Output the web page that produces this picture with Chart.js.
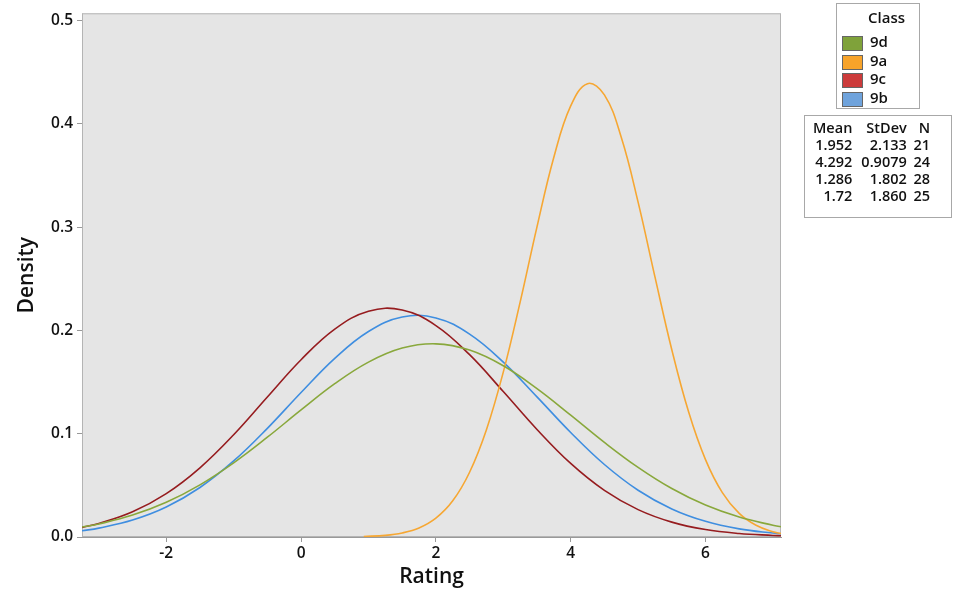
<!DOCTYPE html>
<html lang="en">
<head>
    <meta charset="UTF-8">
    <title>Rating density by class</title>
    <script src="https://cdn.jsdelivr.net/npm/chart.js"></script>
    <style>
        body { margin: 0; background: #fff; font-family: 'Open Sans', 'Noto Sans', sans-serif; }
        .wrap { position: relative; width: 957px; height: 594px; }
        canvas { position: absolute; left: 0; top: 0; }
        .box { position: absolute; border: 1px solid #a8a8a8; background: #fff; color: #111; }
        .legend { left: 836px; top: 3px; width: 82px; height: 104px; font-size: 15px; }
        .legend .title { position: absolute; left: 31px; top: 3px; font-weight: 600; }
        .legend .row { position: absolute; left: 5px; height: 18px; }
        .legend .sw { position: absolute; left: 0; top: 3px; width: 19px; height: 13px; border: 1px solid #666; }
        .legend .lbl { position: absolute; left: 28px; top: -2px; font-weight: 600; }
        .stats { left: 804px; top: 115px; width: 146px; height: 101px; font-size: 14.5px; font-weight: 600; }
        .stats table { position: absolute; left: 6px; top: 3px; border-collapse: collapse; }
        .stats td { padding: 0 0 0 3px; text-align: right; line-height: 17px; }
    </style>
</head>
<body>
    <div class="wrap">
        <canvas id="densityChart" width="957" height="594"></canvas>

        <div class="box legend">
            <div class="title">Class</div>
            <div id="legendRows"></div>
        </div>

        <div class="box stats">
            <table id="statsTable"></table>
        </div>
    </div>

    <script>
        // classes in legend order
        const classes = ['9d', '9a', '9c', '9b'];
        const lineColors = ['#89a83c', '#f6a733', '#961c1f', '#3f8ee0'];
        const swatchColors = ['#7fa23a', '#f7a32a', '#cc3b3b', '#6fa3dc'];

        // summary table
        const means = ['1.952', '4.292', '1.286', '1.72'];
        const stdevs = ['2.133', '0.9079', '1.802', '1.860'];
        const counts = ['21', '24', '28', '25'];

        // curve values
        const xWide = [-3.25, -3, -2.5, -2, -1.5, -1, -0.5, 0, 0.5, 1, 1.5, 2, 2.5, 3, 3.5, 4, 4.5, 5, 5.5, 6, 6.5, 7, 7.12];
        const y9d = [0.0096, 0.0126, 0.0212, 0.0336, 0.0505, 0.0718, 0.0966, 0.1230, 0.1484, 0.1693, 0.1829, 0.1870, 0.1810, 0.1658, 0.1437, 0.1180, 0.0916, 0.0674, 0.0469, 0.0309, 0.0193, 0.0114, 0.0099];
        const y9c = [0.0093, 0.0131, 0.0244, 0.0420, 0.0670, 0.0990, 0.1355, 0.1716, 0.2013, 0.2186, 0.2198, 0.2047, 0.1765, 0.1408, 0.1041, 0.0712, 0.0451, 0.0265, 0.0144, 0.0072, 0.0034, 0.0015, 0.0012];
        const y9b = [0.0060, 0.0086, 0.0164, 0.0290, 0.0479, 0.0736, 0.1052, 0.1399, 0.1730, 0.1990, 0.2130, 0.2121, 0.1964, 0.1693, 0.1357, 0.1012, 0.0702, 0.0453, 0.0272, 0.0152, 0.0079, 0.0038, 0.0032];

        const x9a = [0.93, 1.25, 1.5, 1.75, 2, 2.25, 2.5, 2.75, 3, 3.25, 3.5, 3.75, 4, 4.25, 4.5, 4.75, 5, 5.25, 5.5, 5.75, 6, 6.25, 6.5, 6.75, 7, 7.12];
        const y9a = [0.0005, 0.0016, 0.0039, 0.0087, 0.0182, 0.0350, 0.0627, 0.1039, 0.1596, 0.2274, 0.3003, 0.3677, 0.4173, 0.4389, 0.4280, 0.3869, 0.3242, 0.2518, 0.1813, 0.1210, 0.0749, 0.0429, 0.0228, 0.0113, 0.0051, 0.0034];

        const xTicks = [-2, 0, 2, 4, 6];
        const yTicks = [0, 0.1, 0.2, 0.3, 0.4, 0.5];

        function toPoints(xs, ys) {
            return xs.map((x, i) => ({ x: x, y: ys[i] }));
        }

        // legend + table as real text
        document.getElementById('legendRows').innerHTML = classes.map((c, i) => `
            <div class="row" style="top:${29 + i * 18.5}px">
                <div class="sw" style="background:${swatchColors[i]}"></div>
                <div class="lbl">${c}</div>
            </div>`).join('');

        document.getElementById('statsTable').innerHTML =
            '<tr><td style="text-align:left;padding-left:2px">Mean</td><td style="padding-left:14px">StDev</td><td style="padding-left:12px">N</td></tr>' +
            means.map((m, i) => `<tr><td>${m}</td><td>${stdevs[i]}</td><td>${counts[i]}</td></tr>`).join('');

        // grey plot background and frame
        const plotFrame = {
            id: 'plotFrame',
            beforeDatasetsDraw(chart) {
                const a = chart.chartArea;
                const ctx = chart.ctx;
                ctx.save();
                ctx.fillStyle = '#e5e5e5';
                ctx.fillRect(a.left, a.top, a.right - a.left, a.bottom - a.top);
                ctx.strokeStyle = '#b4b4b4';
                ctx.lineWidth = 1;
                ctx.strokeRect(a.left + 0.5, a.top + 0.5, a.right - a.left - 1, a.bottom - a.top - 1);
                ctx.restore();
            }
        };

        const series = [
            { label: '9d', data: toPoints(xWide, y9d) },
            { label: '9a', data: toPoints(x9a, y9a) },
            { label: '9c', data: toPoints(xWide, y9c) },
            { label: '9b', data: toPoints(xWide, y9b) }
        ];

        const tickFont = { family: "'Open Sans', sans-serif", size: 15.5, weight: '600' };
        const titleFont = { family: "'Open Sans', sans-serif", size: 21, weight: '600' };

        new Chart(document.getElementById('densityChart'), {
            type: 'line',
            data: {
                datasets: series.map((s, i) => ({
                    label: s.label,
                    data: s.data,
                    borderColor: lineColors[i],
                    borderWidth: 1.6,
                    pointRadius: 0,
                    fill: false,
                    tension: 0.4
                }))
            },
            options: {
                responsive: false,
                animation: false,
                layout: { padding: { left: 0, right: 176, top: 10, bottom: 0 } },
                plugins: { legend: { display: false }, tooltip: { enabled: false } },
                scales: {
                    x: {
                        type: 'linear',
                        min: -3.25,
                        max: 7.12,
                        afterBuildTicks: (s) => { s.ticks = xTicks.map(v => ({ value: v })); },
                        afterFit: (s) => { s.height = 57; },
                        grid: { drawOnChartArea: false, drawTicks: true, tickLength: 5, color: '#999' },
                        border: { display: true, color: '#999' },
                        ticks: { color: '#111', font: tickFont, padding: 2 },
                        title: { display: true, text: 'Rating', color: '#111', font: titleFont, padding: { top: 0 } }
                    },
                    y: {
                        min: 0,
                        max: 0.507,
                        afterBuildTicks: (s) => { s.ticks = yTicks.map(v => ({ value: v })); },
                        afterFit: (s) => { s.width = 82; },
                        grid: { drawOnChartArea: false, drawTicks: true, tickLength: 5, color: '#999' },
                        border: { display: true, color: '#999' },
                        ticks: { color: '#111', font: tickFont, padding: 4, callback: (v) => v.toFixed(1) },
                        title: { display: true, text: 'Density', color: '#111', font: titleFont, padding: { top: 14, bottom: 4 } }
                    }
                }
            },
            plugins: [plotFrame]
        });
    </script>
</body>
</html>
